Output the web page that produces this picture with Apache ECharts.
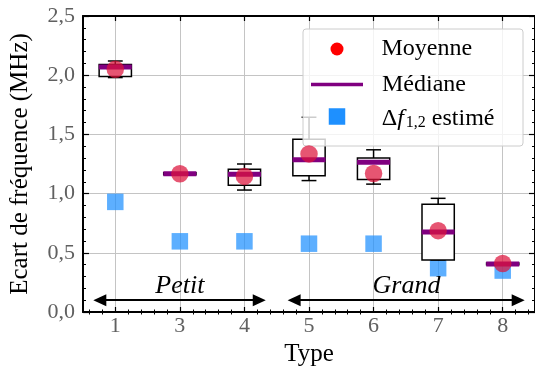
<!DOCTYPE html>
<html>
<head>
<meta charset="utf-8">
<script src="https://cdn.jsdelivr.net/npm/echarts@6/dist/echarts.min.js"></script>
<style>
html, body { margin: 0; padding: 0; background: #fff; }
#main { width: 535px; height: 376px; }
</style>
</head>
<body>
<div id="main"></div>
<script>
var myChart = echarts.init(document.getElementById('main'));

// Type (x categories)
var types = ['1', '3', '4', '5', '6', '7', '8'];
// boites : min, Q1, mediane, Q3, max
var boxMin = [1.98, 1.16, 1.03, 1.11, 1.08, 0.44, 0.40];
var boxQ1 = [1.99, 1.16, 1.07, 1.15, 1.12, 0.44, 0.40];
var mediane = [2.07, 1.168, 1.163, 1.285, 1.265, 0.675, 0.405];
var boxQ3 = [2.09, 1.176, 1.205, 1.46, 1.30, 0.91, 0.413];
var boxMax = [2.12, 1.176, 1.25, 1.645, 1.37, 0.96, 0.413];
var moyenne = [2.05, 1.168, 1.145, 1.335, 1.17, 0.687, 0.41];
var deltaF = [0.93, 0.597, 0.597, 0.577, 0.577, 0.37, 0.35];

// groupes Petit / Grand (fleches)
var groupNames = ['Petit', 'Grand'];
var groupFrom = [-0.24, 2.77];
var groupTo = [2.23, 6.24];
var groupTextX = [1.0, 4.51];
var groupTextY = 0.22;
var arrowY = 0.1;

var FONT = 'Liberation Serif';
var idx = types.map(function (t, i) { return i; });
var minorX = [];
for (var k = -2; k <= 32; k++) {
    if (k % 5 !== 0) minorX.push(k / 5);
}

function pts(arr) {
    return arr.map(function (v, i) { return [i, v]; });
}

var boxData = types.map(function (t, i) {
    return [i, boxMin[i], boxQ1[i], mediane[i], boxQ3[i], boxMax[i]];
});

var fmtY = function (v) { return v.toFixed(1).replace('.', ','); };

var xBase = {
    type: 'value', min: -0.5, max: 6.5, gridIndex: 0
};

var option = {
    animation: false,
    grid: { left: 80, top: 16, width: 456, height: 296 },
    xAxis: [
        Object.assign({}, xBase, {
            position: 'bottom',
            name: 'Type', nameLocation: 'middle', nameGap: 30,
            nameTextStyle: { fontFamily: FONT, fontSize: 25, color: '#000' },
            axisLine: { show: true, onZero: false, lineStyle: { color: '#000', width: 2 } },
            axisTick: { show: true, inside: true, length: 5, customValues: idx, lineStyle: { color: '#000', width: 1.2 } },
            axisLabel: {
                customValues: idx, margin: 3, fontFamily: FONT, fontSize: 22, color: '#606060',
                formatter: function (v) { return types[Math.round(v)]; }
            },
            splitLine: { show: true, lineStyle: { color: '#c4c4c4', width: 1 } }
        }),
        Object.assign({}, xBase, {
            position: 'bottom',
            axisLine: { show: false },
            axisTick: { show: true, inside: true, length: 2.5, customValues: minorX, lineStyle: { color: '#000', width: 1 } },
            axisLabel: { show: false },
            splitLine: { show: false }
        }),
        Object.assign({}, xBase, {
            position: 'top',
            axisLine: { show: true, onZero: false, lineStyle: { color: '#000', width: 2 } },
            axisTick: { show: true, inside: true, length: 5, customValues: idx, lineStyle: { color: '#000', width: 1.2 } },
            axisLabel: { show: false },
            splitLine: { show: false }
        }),
        Object.assign({}, xBase, {
            position: 'top',
            axisLine: { show: false },
            axisTick: { show: true, inside: true, length: 2.5, customValues: minorX, lineStyle: { color: '#000', width: 1 } },
            axisLabel: { show: false },
            splitLine: { show: false }
        })
    ],
    yAxis: [
        {
            type: 'value', min: 0, max: 2.5, interval: 0.5, position: 'left',
            name: 'Ecart de fréquence (MHz)', nameLocation: 'middle', nameGap: 50,
            nameTextStyle: { fontFamily: FONT, fontSize: 25, color: '#000' },
            axisLine: { show: true, onZero: false, lineStyle: { color: '#000', width: 2 } },
            axisTick: { show: true, inside: true, length: 6, lineStyle: { color: '#000', width: 1.2 } },
            minorTick: { show: true, splitNumber: 5, length: 3, lineStyle: { color: '#000', width: 1 } },
            axisLabel: { margin: 8, fontFamily: FONT, fontSize: 22, color: '#606060', formatter: fmtY },
            splitLine: { show: true, lineStyle: { color: '#c4c4c4', width: 1 } }
        },
        {
            type: 'value', min: 0, max: 2.5, interval: 0.5, position: 'right',
            axisLine: { show: true, onZero: false, lineStyle: { color: '#000', width: 2 } },
            axisTick: { show: true, inside: true, length: 6, lineStyle: { color: '#000', width: 1.2 } },
            minorTick: { show: true, splitNumber: 5, length: 3, lineStyle: { color: '#000', width: 1 } },
            axisLabel: { show: false },
            splitLine: { show: false }
        }
    ],
    graphic: [{
        type: 'rect', z: 3,
        shape: { x: 303, y: 29, width: 220, height: 117, r: 3 },
        style: { fill: 'rgba(255,255,255,0.8)', stroke: '#cccccc', lineWidth: 1 }
    }],
    legend: [
        {
            data: [{ name: 'Moyenne', icon: 'circle', itemStyle: { color: '#ff0000', opacity: 1 } }],
            left: 330.5, top: 35, padding: 0, itemWidth: 13, itemHeight: 13, selectedMode: false, z: 4,
            textStyle: { fontFamily: FONT, fontSize: 24, color: '#000', lineHeight: 28, padding: [0, 0, 0, 33] }
        },
        {
            data: [{ name: 'Médiane', icon: 'rect', itemStyle: { color: '#800080', opacity: 1 } }],
            left: 311, top: 70.5, padding: 0, itemWidth: 52, itemHeight: 3.5, selectedMode: false, z: 4,
            textStyle: { fontFamily: FONT, fontSize: 24, color: '#000', lineHeight: 28, padding: [0, 0, 0, 14] }
        },
        {
            data: [{ name: 'Δf estimé', icon: 'rect', itemStyle: { color: '#1e90ff', opacity: 1 } }],
            left: 328.75, top: 106.5, padding: 0, itemWidth: 16.5, itemHeight: 16.5, selectedMode: false, z: 4,
            formatter: function () { return '{a|Δ}{i|f}{s|1,2}{a| estimé}'; },
            textStyle: {
                fontFamily: FONT, fontSize: 24, color: '#000', padding: [0, 0, 0, 31.5],
                rich: {
                    a: { fontFamily: FONT, fontSize: 24, color: '#000', lineHeight: 28, verticalAlign: 'bottom' },
                    i: { fontFamily: FONT, fontSize: 24, fontStyle: 'italic', color: '#000', lineHeight: 28, verticalAlign: 'bottom' },
                    s: { fontFamily: FONT, fontSize: 16, color: '#000', verticalAlign: 'bottom', padding: [0, 0, 0, 2] }
                }
            }
        }
    ],
    series: [
        {
            name: 'Δf estimé', type: 'scatter', symbol: 'rect', symbolSize: 16.5, z: 1,
            itemStyle: { color: '#1e90ff', opacity: 0.72 },
            data: pts(deltaF)
        },
        {
            name: 'boites', type: 'custom', z: 2,
            encode: { x: 0, y: [1, 2, 3, 4, 5] },
            renderItem: function (params, api) {
                var x = api.value(0);
                var pMin = api.coord([x, api.value(1)]);
                var pQ1 = api.coord([x, api.value(2)]);
                var pQ3 = api.coord([x, api.value(4)]);
                var pMax = api.coord([x, api.value(5)]);
                var unit = api.size([1, 0])[0];
                var bw = unit * 0.5, cw = unit * 0.23, cx = pQ1[0];
                var st = { stroke: '#000', fill: null, lineWidth: 1.5 };
                return {
                    type: 'group', children: [
                        { type: 'line', shape: { x1: cx, y1: pQ3[1], x2: cx, y2: pMax[1] }, style: st },
                        { type: 'line', shape: { x1: cx, y1: pQ1[1], x2: cx, y2: pMin[1] }, style: st },
                        { type: 'line', shape: { x1: cx - cw / 2, y1: pMax[1], x2: cx + cw / 2, y2: pMax[1] }, style: st },
                        { type: 'line', shape: { x1: cx - cw / 2, y1: pMin[1], x2: cx + cw / 2, y2: pMin[1] }, style: st },
                        {
                            type: 'rect',
                            shape: { x: cx - bw / 2, y: pQ3[1], width: bw, height: Math.max(pQ1[1] - pQ3[1], 1) },
                            style: { stroke: '#000', fill: '#fff', lineWidth: 1.5 }
                        }
                    ]
                };
            },
            data: boxData
        },
        {
            name: 'Médiane', type: 'scatter', symbol: 'rect', symbolSize: [33, 5], z: 3,
            itemStyle: { color: '#800080', opacity: 1 },
            data: pts(mediane)
        },
        {
            name: 'Moyenne', type: 'scatter', symbol: 'circle', symbolSize: 17.5, z: 4,
            itemStyle: { color: '#dc143c', opacity: 0.72 },
            data: pts(moyenne)
        },
        {
            name: 'groupes', type: 'scatter', symbolSize: 0, z: 5, silent: true,
            data: groupNames.map(function (n, i) { return [groupTextX[i], groupTextY, n]; }),
            label: {
                show: true, position: 'inside', formatter: function (p) { return p.value[2]; },
                fontFamily: FONT, fontSize: 26, fontStyle: 'italic', color: '#000',
                textBorderWidth: 0, opacity: 1
            },
            markLine: {
                silent: true, animation: false,
                symbol: ['path://M5,0L10,10L0,10Z', 'path://M5,0L10,10L0,10Z'],
                symbolSize: [12, 13],
                label: { show: false },
                lineStyle: { color: '#000', width: 2, type: 'solid' },
                data: groupNames.map(function (n, i) {
                    return [{ coord: [groupFrom[i], arrowY] }, { coord: [groupTo[i], arrowY] }];
                })
            }
        }
    ]
};

myChart.setOption(option);
</script>
</body>
</html>
